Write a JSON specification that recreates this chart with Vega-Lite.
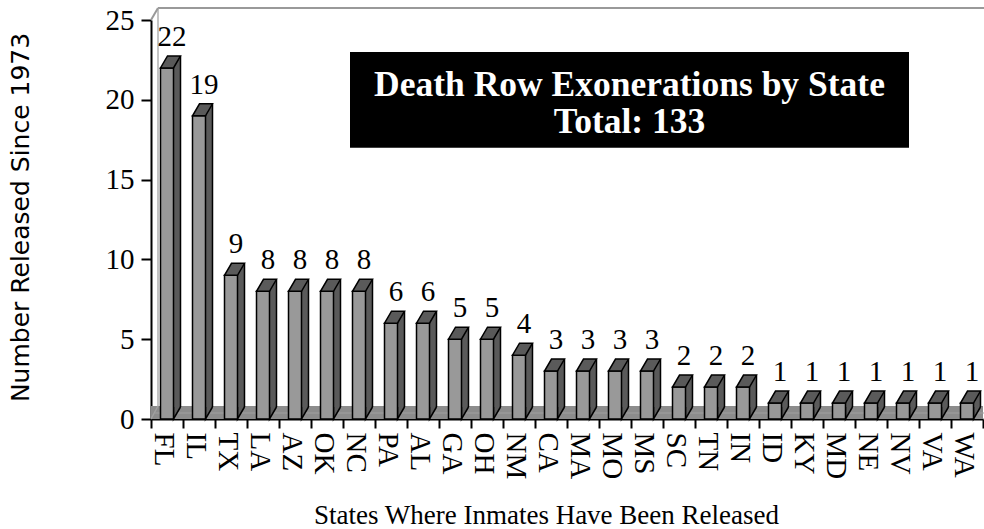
{
  "$schema": "https://vega.github.io/schema/vega-lite/v6.json",
  "width": 832,
  "height": 399,
  "autosize": {"type": "none"},
  "padding": {"left": 151, "top": 20, "right": 1, "bottom": 110},
  "background": "white",
  "config": {"view": {"stroke": null}},
  "resolve": {"axis": {"x": "independent", "y": "independent"}},
  "data": {"values": [
    {"state": "FL", "n": 22}, {"state": "IL", "n": 19}, {"state": "TX", "n": 9},
    {"state": "LA", "n": 8}, {"state": "AZ", "n": 8}, {"state": "OK", "n": 8},
    {"state": "NC", "n": 8}, {"state": "PA", "n": 6}, {"state": "AL", "n": 6},
    {"state": "GA", "n": 5}, {"state": "OH", "n": 5}, {"state": "NM", "n": 4},
    {"state": "CA", "n": 3}, {"state": "MA", "n": 3}, {"state": "MO", "n": 3},
    {"state": "MS", "n": 3}, {"state": "SC", "n": 2}, {"state": "TN", "n": 2},
    {"state": "IN", "n": 2}, {"state": "ID", "n": 1}, {"state": "KY", "n": 1},
    {"state": "MD", "n": 1}, {"state": "NE", "n": 1}, {"state": "NV", "n": 1},
    {"state": "VA", "n": 1}, {"state": "WA", "n": 1}
  ]},
  "layer": [
    {
      "data": {"values": [{}]},
      "mark": {"type": "rect", "fill": "#8c8c8c", "y2Offset": -13},
      "encoding": {"x": {"value": 0}, "x2": {"value": "width"}, "y": {"datum": 0, "axis": null}, "y2": {"datum": 0}}
    },
    {
      "data": {"values": [{}]},
      "mark": {"type": "rule", "color": "#a0a0a0", "strokeWidth": 1, "yOffset": -6, "x2Offset": 2},
      "encoding": {"x": {"value": 4}, "x2": {"value": "width"}, "y": {"datum": 0, "axis": null}}
    },
    {
      "data": {"values": [{}]},
      "mark": {"type": "rule", "color": "#999999", "strokeWidth": 2, "xOffset": 7, "x2Offset": 2, "yOffset": -12},
      "encoding": {"x": {"value": 0}, "x2": {"value": "width"}, "y": {"datum": 25, "axis": null}}
    },
    {
      "data": {"values": [{}]},
      "mark": {"type": "rule", "color": "#b0b0b0", "strokeWidth": 1.5, "xOffset": 7, "yOffset": -12, "y2Offset": -13},
      "encoding": {"x": {"value": 0}, "y": {"datum": 25, "axis": null}, "y2": {"datum": 0}}
    },
    {
      "data": {"values": [{}]},
      "mark": {"type": "point", "shape": "M0,0L7,-12", "size": 4, "filled": false, "stroke": "#999999", "strokeWidth": 2, "opacity": 1},
      "encoding": {"x": {"value": 0}, "y": {"datum": 25, "axis": null}}
    },
    {
      "data": {"values": [{}]},
      "mark": {"type": "point", "shape": "M0,0L7,-13", "size": 4, "filled": false, "stroke": "#a0a0a0", "strokeWidth": 1.5, "opacity": 1},
      "encoding": {"x": {"value": 0}, "y": {"datum": 0, "axis": null}}
    },
    {
      "mark": {"type": "bar", "width": 7, "xOffset": 10, "yOffset": -12, "y2Offset": -12, "fill": "#5a5a5a", "strokeWidth": 0},
      "encoding": {
        "x": {"field": "state", "type": "nominal", "sort": null, "axis": null},
        "y": {"field": "n", "type": "quantitative", "axis": null}
      }
    },
    {
      "mark": {"type": "point", "shape": "M6.5,-12L6.5,0L13.5,-12", "size": 4, "filled": true, "fill": "#5a5a5a", "stroke": "black", "strokeWidth": 1.5, "opacity": 1},
      "encoding": {
        "x": {"field": "state", "type": "nominal", "sort": null, "axis": null},
        "y": {"datum": 0, "axis": null}
      }
    },
    {
      "mark": {"type": "rule", "color": "black", "strokeWidth": 1.5, "xOffset": 13.5, "yOffset": -12, "y2Offset": -12},
      "encoding": {
        "x": {"field": "state", "type": "nominal", "sort": null, "axis": null},
        "y": {"field": "n", "type": "quantitative", "axis": null},
        "y2": {"datum": 0}
      }
    },
    {
      "mark": {"type": "bar", "width": 13, "fill": "#999999", "stroke": "black", "strokeWidth": 1.5},
      "encoding": {
        "x": {
          "field": "state", "type": "nominal", "sort": null,
          "scale": {"paddingInner": 0, "paddingOuter": 0, "domain": ["FL","IL","TX","LA","AZ","OK","NC","PA","AL","GA","OH","NM","CA","MA","MO","MS","SC","TN","IN","ID","KY","MD","NE","NV","VA","WA"]},
          "axis": {
            "labelAngle": 90, "labelFont": "Liberation Serif", "labelFontSize": 29, "labelColor": "black",
            "labelPadding": 4, "labelOffset": -4, "labelOverlap": false, "labelBound": false,
            "tickBand": "extent", "tickSize": 9, "tickWidth": 2, "tickColor": "black",
            "domainColor": "black", "domainWidth": 2,
            "title": "States Where Inmates Have Been Released",
            "titleFont": "Liberation Serif", "titleFontSize": 27, "titleFontWeight": "normal", "titleColor": "black",
            "titleX": 395, "titleY": 104, "titleBaseline": "alphabetic", "titleAlign": "center"
          }
        },
        "y": {
          "field": "n", "type": "quantitative",
          "scale": {"domain": [0, 25], "nice": false},
          "axis": {
            "values": [0, 5, 10, 15, 20, 25], "grid": false,
            "domainColor": "black", "domainWidth": 2, "tickColor": "black", "tickWidth": 2, "tickSize": 10,
            "labelFont": "Liberation Serif", "labelFontSize": 29, "labelColor": "black", "labelPadding": 7,
            "title": "Number Released Since 1973", "titleFont": "DejaVu Sans", "titleFontSize": 25,
            "titleFontWeight": "normal", "titleColor": "black", "titleX": -131, "titleY": 197,
            "titleAngle": -90, "titleAlign": "center", "titleBaseline": "middle"
          }
        }
      }
    },
    {
      "mark": {"type": "point", "shape": "M-6.5,0L6.5,0L13.5,-12L0.5,-12Z", "size": 4, "filled": true, "fill": "#5a5a5a", "stroke": "black", "strokeWidth": 1.5, "opacity": 1},
      "encoding": {
        "x": {"field": "state", "type": "nominal", "sort": null, "axis": null},
        "y": {"field": "n", "type": "quantitative", "axis": null}
      }
    },
    {
      "mark": {"type": "text", "font": "Liberation Serif", "fontSize": 29, "baseline": "alphabetic", "dx": 5, "dy": -22, "color": "black"},
      "encoding": {
        "x": {"field": "state", "type": "nominal", "sort": null, "axis": null},
        "y": {"field": "n", "type": "quantitative", "axis": null},
        "text": {"field": "n", "type": "quantitative"}
      }
    },
    {
      "data": {"values": [{}]},
      "mark": {"type": "rect", "color": "black", "xOffset": -9, "x2Offset": 6},
      "encoding": {"x": {"datum": "NC", "axis": null}, "x2": {"datum": "NV"}, "y": {"datum": 23, "axis": null}, "y2": {"datum": 17}}
    },
    {
      "data": {"values": [{}]},
      "mark": {"type": "text", "text": ["Death Row Exonerations by State", "Total: 133"], "font": "Liberation Serif", "fontWeight": "bold", "fontSize": 35.5, "color": "white", "align": "center", "baseline": "middle", "lineHeight": 37, "xOffset": -17.5},
      "encoding": {"x": {"datum": "MS", "axis": null}, "y": {"datum": 20.9, "axis": null}}
    }
  ]
}
